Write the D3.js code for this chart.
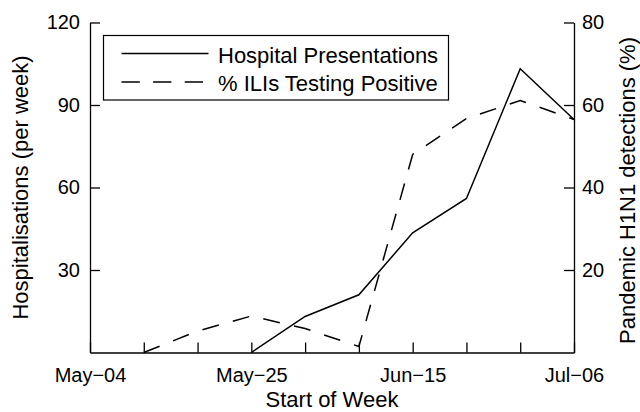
<!DOCTYPE html>
<html>
<head>
<meta charset="utf-8">
<script src="https://cdn.jsdelivr.net/npm/d3@7"></script>
<style>
  body { margin: 0; background: #fff; }
  svg { display: block; font-family: "Liberation Sans", Arial, Helvetica, sans-serif; }
</style>
</head>
<body>
<svg id="chart" width="640" height="412"></svg>
<script>
// weekly data, week starting dates (2009)
const weeks = ['2009-05-04', '2009-05-11', '2009-05-18', '2009-05-25', '2009-06-01',
  '2009-06-08', '2009-06-15', '2009-06-22', '2009-06-29', '2009-07-06'];
const hospitalPresentations = [null, null, null, 0, 13.1, 21, 43.5, 56, 103.2, 84.7];
const iliPositive = [null, 0, 5.2, 8.85, 5.8, 1.45, 48, 56.7, 61.1, 56.5];
const leftTicks = [30, 60, 90, 120];
const rightTicks = [20, 40, 60, 80];
const labelledWeeks = ['2009-05-04', '2009-05-25', '2009-06-15', '2009-07-06'];
const seriesNames = ['Hospital Presentations', '% ILIs Testing Positive'];

const parse = d3.timeParse('%Y-%m-%d');
const dates = weeks.map(parse);
const labelled = labelledWeeks.map(w => +parse(w));

const svg = d3.select('#chart');
const plotLeft = 90, plotRight = 574, plotTop = 22.5, plotBottom = 352.5;

const x = d3.scaleTime().domain([dates[0], dates[dates.length - 1]]).range([plotLeft, plotRight]);
const yLeft = d3.scaleLinear().domain([0, 120]).range([plotBottom, plotTop]);
const yRight = d3.scaleLinear().domain([0, 80]).range([plotBottom, plotTop]);

const fmt = d3.timeFormat('%b\u2212%d');

function styleAxis(g) {
  g.select('.domain').attr('stroke', '#000').attr('stroke-width', 1.3);
  g.selectAll('.tick line').attr('stroke', '#000').attr('stroke-width', 1.3);
  g.selectAll('.tick text').attr('fill', '#000').attr('font-size', 20);
  g.attr('font-family', null);
}

svg.append('g')
  .attr('transform', `translate(0,${plotBottom})`)
  .call(d3.axisBottom(x).tickValues(dates).tickSize(-10).tickSizeOuter(0).tickPadding(15)
    .tickFormat(d => (labelled.includes(+d) ? fmt(d) : '')))
  .call(styleAxis);

svg.append('g')
  .attr('transform', `translate(${plotLeft},0)`)
  .call(d3.axisLeft(yLeft).tickValues(leftTicks).tickSize(-10).tickSizeOuter(0).tickPadding(10))
  .call(styleAxis);

svg.append('g')
  .attr('transform', `translate(${plotRight},0)`)
  .call(d3.axisRight(yRight).tickValues(rightTicks).tickSize(-10).tickSizeOuter(0).tickPadding(8))
  .call(styleAxis);

// series lines
const hospLine = d3.line()
  .defined(d => d.v != null)
  .x(d => x(d.date))
  .y(d => yLeft(d.v));

const iliLine = d3.line()
  .defined(d => d.v != null)
  .x(d => x(d.date))
  .y(d => yRight(d.v));

svg.append('path')
  .datum(dates.map((date, i) => ({ date, v: hospitalPresentations[i] })))
  .attr('fill', 'none')
  .attr('stroke', '#000')
  .attr('stroke-width', 1.5)
  .attr('d', hospLine);

svg.append('path')
  .datum(dates.map((date, i) => ({ date, v: iliPositive[i] })))
  .attr('fill', 'none')
  .attr('stroke', '#000')
  .attr('stroke-width', 1.5)
  .attr('stroke-dasharray', '17,14.5')
  .attr('d', iliLine);

// axis titles
svg.append('text')
  .attr('transform', `translate(28,${(plotTop + plotBottom) / 2}) rotate(-90)`)
  .attr('text-anchor', 'middle')
  .attr('font-size', 22)
  .text('Hospitalisations (per week)');

svg.append('text')
  .attr('transform', `translate(634.5,${(plotTop + plotBottom) / 2 + 3}) rotate(-90)`)
  .attr('text-anchor', 'middle')
  .attr('font-size', 22)
  .text('Pandemic H1N1 detections (%)');

svg.append('text')
  .attr('x', (plotLeft + plotRight) / 2)
  .attr('y', 406.5)
  .attr('text-anchor', 'middle')
  .attr('font-size', 22)
  .text('Start of Week');

// legend
const legend = svg.append('g');
legend.append('rect')
  .attr('x', 103.5).attr('y', 35.5)
  .attr('width', 345).attr('height', 64.5)
  .attr('fill', '#fff')
  .attr('stroke', '#000')
  .attr('stroke-width', 1.2);

const items = legend.selectAll('g.item')
  .data(seriesNames)
  .enter()
  .append('g')
  .attr('class', 'item')
  .attr('transform', (d, i) => `translate(0,${53.5 + i * 28.5})`);

items.append('line')
  .attr('x1', 121.5).attr('x2', 208.5)
  .attr('stroke', '#000')
  .attr('stroke-width', 1.5)
  .attr('stroke-dasharray', (d, i) => (i === 1 ? '18.3,13.3' : null));

items.append('text')
  .attr('x', 218)
  .attr('y', 9)
  .attr('font-size', 22)
  .text(d => d);
</script>
</body>
</html>
